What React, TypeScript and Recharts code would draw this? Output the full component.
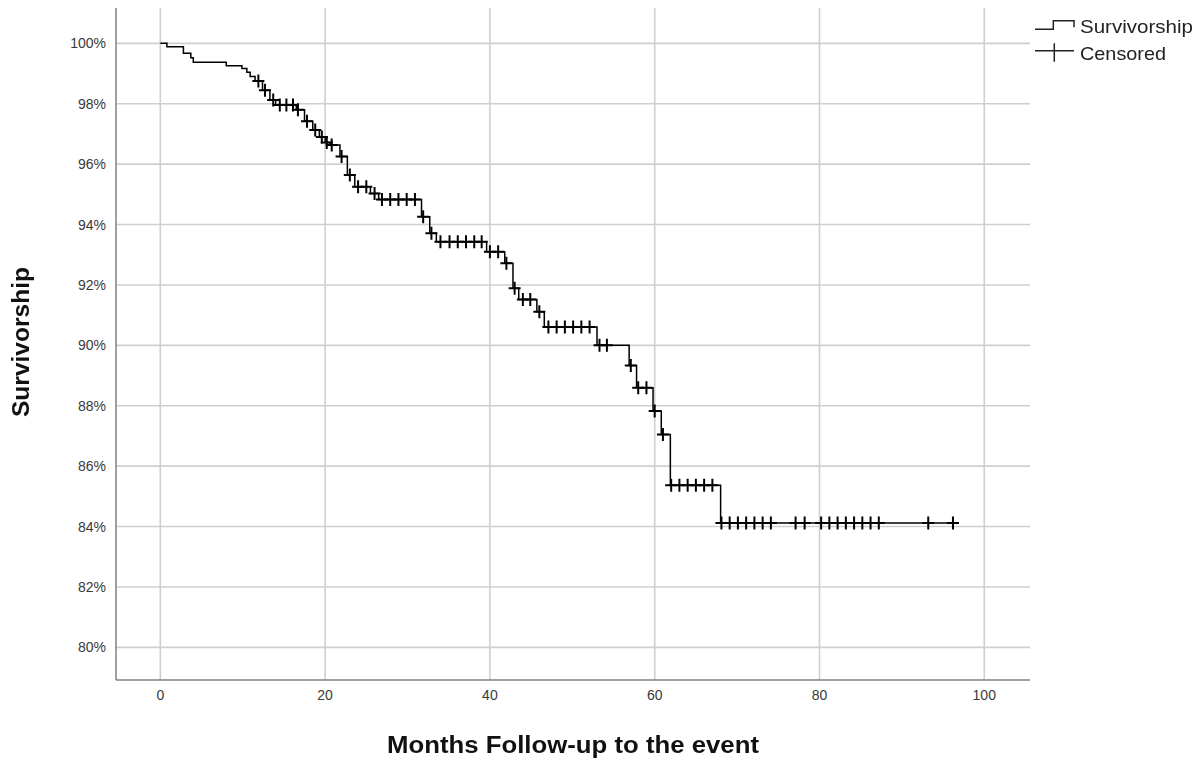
import React from 'react';
import { ComposedChart, Line, Scatter, XAxis, YAxis, CartesianGrid } from 'recharts';

// Kaplan-Meier step curve (months, survivorship %)
const stepTimes = [0, 0.8, 2.8, 3.7, 4.0, 8.0, 9.9, 10.5, 10.9, 11.5, 12.4, 13.3, 14.0, 16.5, 17.5, 18.5, 19.3, 20.0, 20.6, 21.8, 22.7, 23.6, 25.5, 26.5, 31.7, 32.7, 33.5, 39.6, 41.8, 42.8, 43.5, 45.7, 46.6, 53.0, 56.9, 57.8, 59.8, 60.8, 61.9, 68.0, 96.6];
const survivorship = [100, 99.89, 99.67, 99.52, 99.37, 99.26, 99.17, 99.04, 98.9, 98.75, 98.45, 98.12, 97.96, 97.8, 97.42, 97.13, 96.9, 96.72, 96.63, 96.25, 95.64, 95.25, 95.03, 94.83, 94.26, 93.71, 93.43, 93.1, 92.72, 91.89, 91.52, 91.11, 90.61, 90.0, 89.33, 88.6, 87.83, 87.05, 85.37, 84.12, 84.12];

// Censored observation times (months)
const censoredTimes = [11.9, 12.7, 13.7, 14.5, 15.3, 16.1, 16.7, 17.8, 18.8, 19.6, 20.2, 20.8, 22.0, 23.0, 24.0, 25.0, 26.0, 26.9, 27.9, 28.9, 29.9, 30.9, 31.9, 32.9, 34.0, 35.1, 36.1, 37.1, 38.1, 39.0, 40.0, 41.0, 42.0, 43.0, 44.0, 44.9, 46.0, 47.1, 48.1, 49.1, 50.1, 51.1, 52.1, 53.3, 54.2, 57.1, 58.0, 59.0, 60.0, 61.0, 62.0, 63.0, 64.0, 65.0, 66.0, 67.0, 68.1, 69.1, 70.1, 71.1, 72.1, 73.1, 74.1, 77.1, 78.2, 80.2, 81.2, 82.2, 83.2, 84.2, 85.2, 86.2, 87.2, 93.2, 96.2];

const xTicks = [0, 20, 40, 60, 80, 100];
const yTicks = [80, 82, 84, 86, 88, 90, 92, 94, 96, 98, 100];

const xTitle = 'Months Follow-up to the event';
const yTitle = 'Survivorship';
const legendCurve = 'Survivorship';
const legendCensored = 'Censored';

const curveData = stepTimes.map((t, i) => ({ t, s: survivorship[i] }));
const survAt = (t: number) => {
  let v = survivorship[0];
  for (let i = 0; i < stepTimes.length; i++) if (stepTimes[i] <= t) v = survivorship[i];
  return v;
};
const censoredData = censoredTimes.map((t) => ({ t, s: survAt(t) }));

const W = 1183;
const H = 744;
const FONT = '"Liberation Sans", Arial, sans-serif';

const PlusShape = (p: any) => (
  <path
    d={`M${p.cx - 6},${p.cy}h12M${p.cx},${p.cy - 6.5}v13`}
    stroke="#000"
    strokeWidth={2}
    fill="none"
  />
);

export default function App() {
  return (
    <div style={{ position: 'relative', width: W, height: H }}>
      <ComposedChart
        width={W}
        height={H}
        margin={{ top: 0, right: 161, bottom: 0, left: 0 }}
      >
        <CartesianGrid stroke="#cfcfcf" strokeWidth={1.6} horizontalValues={yTicks} verticalValues={xTicks} />
        <XAxis
          type="number"
          dataKey="t"
          domain={[-5.38, 105.55]}
          ticks={xTicks}
          allowDataOverflow
          height={72}
          tickLine={false}
          tickSize={0}
          tickMargin={10}
          axisLine={{ stroke: '#808080', strokeWidth: 1.5 }}
          tick={{ fill: '#3a3a3a', fontSize: 14, fontFamily: FONT }}
        />
        <YAxis
          type="number"
          dataKey="s"
          domain={[78.92, 101.17]}
          ticks={yTicks}
          allowDataOverflow
          width={108}
          tickLine={false}
          tickSize={0}
          tickMargin={10}
          tickFormatter={(v: number) => `${v}%`}
          axisLine={{ stroke: '#808080', strokeWidth: 1.5 }}
          tick={{ fill: '#3a3a3a', fontSize: 14, fontFamily: FONT }}
        />
        <Line
          data={curveData}
          dataKey="s"
          type="stepAfter"
          stroke="#000"
          strokeWidth={1.5}
          dot={false}
          activeDot={false}
          isAnimationActive={false}
        />
        <Scatter
          data={censoredData}
          dataKey="s"
          shape={PlusShape}
          isAnimationActive={false}
        />
      </ComposedChart>
      <svg
        width={1199}
        height={760}
        style={{ position: 'fixed', left: 0, top: 0, pointerEvents: 'none' }}
      >
        <text
          x={0}
          y={0}
          transform="translate(21,342) rotate(-90)"
          textAnchor="middle"
          dominantBaseline="central"
          fontFamily={FONT}
          fontWeight="bold"
          fontSize={23}
          textLength={150}
          lengthAdjust="spacingAndGlyphs"
          fill="#111"
        >
          {yTitle}
        </text>
        <text
          x={573}
          y={753}
          textAnchor="middle"
          fontFamily={FONT}
          fontWeight="bold"
          fontSize={23}
          textLength={372}
          lengthAdjust="spacingAndGlyphs"
          fill="#111"
        >
          {xTitle}
        </text>
        <path d="M1035,29.3H1053.3V20.7H1074V27.3" stroke="#222" strokeWidth={1.5} fill="none" />
        <text x={1080} y={33} fontFamily={FONT} fontSize={19} textLength={113} lengthAdjust="spacingAndGlyphs" fill="#222">
          {legendCurve}
        </text>
        <path d="M1035,50.7H1074M1054.3,43.3V61.7" stroke="#222" strokeWidth={1.5} fill="none" />
        <text x={1080} y={60} fontFamily={FONT} fontSize={19} textLength={86} lengthAdjust="spacingAndGlyphs" fill="#222">
          {legendCensored}
        </text>
      </svg>
    </div>
  );
}
